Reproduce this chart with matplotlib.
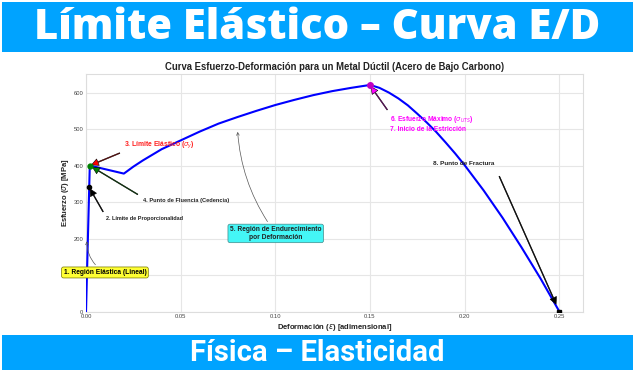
import matplotlib
matplotlib.use("Agg")
import matplotlib.pyplot as plt
from matplotlib.patches import Rectangle

# ---------------- data ----------------
strain = [0.0, 0.0017, 0.002, 0.02, 0.025, 0.03, 0.04, 0.05, 0.06, 0.07, 0.08, 0.09,
          0.10, 0.11, 0.12, 0.13, 0.14, 0.15, 0.155, 0.16, 0.165, 0.17, 0.175, 0.18,
          0.185, 0.19, 0.195, 0.20, 0.21, 0.22, 0.23, 0.24, 0.25]
stress = [0, 340, 400, 378, 397, 414, 445, 469, 493, 515, 533, 550,
          566, 580, 593, 604, 613, 621, 613, 600, 584, 565, 542, 518,
          492, 463, 433, 401, 332, 257, 176, 91, 0]

prop_pt = (0.0017, 340)
yield_pt = (0.002, 400)
uts_pt = (0.15, 620)
fract_pt = (0.25, 0)

x_ticks = [0.00, 0.05, 0.10, 0.15, 0.20, 0.25]
y_ticks = [0, 100, 200, 300, 400, 500, 600]

title_top = "Límite Elástico – Curva E/D"
title_bottom = "Física – Elasticidad"
chart_title = "Curva Esfuerzo-Deformación para un Metal Dúctil (Acero de Bajo Carbono)"

# ---------------- figure ----------------
W, H = 635, 371
fig = plt.figure(figsize=(W / 100, H / 100), dpi=100)
fig.patch.set_facecolor("white")

BLUE = "#00A3FF"
fig.add_artist(Rectangle((2 / W, 1 - 52 / H), 631 / W, 50 / H, transform=fig.transFigure,
                         facecolor=BLUE, edgecolor="none"))
fig.add_artist(Rectangle((2 / W, 1 / H), 631 / W, 35 / H, transform=fig.transFigure,
                         facecolor=BLUE, edgecolor="none"))
fig.text(0.5, 1 - 28 / H, title_top, ha="center", va="center", color="white",
         fontsize=30, fontweight="heavy", family="Open Sans")
fig.text(0.5, 1 - 353 / H, title_bottom, ha="center", va="center", color="white",
         fontsize=21, fontweight="bold", family="Roboto")

ax = fig.add_axes([86 / W, 1 - 311.5 / H, (583 - 86) / W, (311.5 - 74) / H])
ax.set_facecolor("white")
ax.grid(True, color="#e6e6e6", lw=0.8)
ax.set_axisbelow(True)
for s in ax.spines.values():
    s.set_color("#dddddd")
    s.set_linewidth(0.8)

FONT = "Liberation Sans"
ax.plot(strain, stress, color="blue", lw=1.5, zorder=3)

ax.plot(*prop_pt, "o", color="black", ms=3, zorder=4)
ax.plot(*yield_pt, "o", color="green", ms=3.5, zorder=4)
ax.plot(*uts_pt, "o", color="#c000c0", ms=4, zorder=4)
ax.plot(*fract_pt, "s", color="black", ms=3, zorder=4, clip_on=True)

ax.set_xlim(0, 0.2625)
ax.set_ylim(0, 651)
ax.set_xticks(x_ticks)
ax.set_xticklabels([f"{v:.2f}" for v in x_ticks])
ax.set_yticks(y_ticks)
ax.tick_params(axis="both", labelsize=4.2, colors="#444444", length=0, pad=2)
for lab in ax.get_xticklabels() + ax.get_yticklabels():
    lab.set_family(FONT)

ax.set_title(chart_title, fontsize=6.85, fontweight="bold", family=FONT, pad=3, color="#222222")
ax.set_xlabel("Deformación ($\\epsilon$) [adimensional]", fontsize=5.5, fontweight="bold",
              family=FONT, labelpad=2, color="#222222")
ax.set_ylabel("Esfuerzo ($\\sigma$) [MPa]", fontsize=5.5, fontweight="bold", family=FONT,
              labelpad=2, color="#222222")


def arrow(fc):
    return dict(facecolor=fc, edgecolor="black", shrink=0.05, width=0.6,
                headwidth=5, headlength=5, lw=0.4)


ax.annotate("1. Región Elástica (Lineal)", xy=(0.0005, 200), xytext=(0.010, 107),
            ha="center", va="center", fontsize=4.8, fontweight="bold", family=FONT,
            bbox=dict(boxstyle="round,pad=0.3", fc="#ffff33", ec="#777700", lw=0.5),
            arrowprops=dict(arrowstyle="->", color="#555555", lw=0.5,
                            connectionstyle="arc3,rad=-0.3"), annotation_clip=False,
            zorder=6)
ax.annotate("2. Límite de Proporcionalidad", xy=prop_pt, xytext=(0.0103, 255),
            ha="left", va="center", fontsize=4.0, fontweight="bold", family=FONT,
            color="#222222", arrowprops=arrow("black"))
ax.annotate("3. Límite Elástico ($\\sigma_y$)", xy=yield_pt, xytext=(0.0202, 455),
            ha="left", va="center", fontsize=4.9, fontweight="bold", family=FONT,
            color="#ff2020", arrowprops=arrow("red"))
ax.annotate("4. Punto de Fluencia (Cedencia)", xy=yield_pt, xytext=(0.0302, 305),
            ha="left", va="center", fontsize=4.05, fontweight="bold", family=FONT,
            color="#222222", arrowprops=arrow("green"))
ax.annotate("5. Región de Endurecimiento\npor Deformación", xy=(0.08, 500),
            xytext=(0.1002, 214), ha="center", va="center", fontsize=4.8,
            fontweight="bold", family=FONT, color="#222222", linespacing=1.1,
            bbox=dict(boxstyle="round,pad=0.3", fc="#44f6f6", ec="#448888", lw=0.5),
            arrowprops=dict(arrowstyle="->", color="#555555", lw=0.5,
                            connectionstyle="arc3,rad=-0.15"))
ax.annotate("6. Esfuerzo Máximo ($\\sigma_{UTS}$)\n7. Inicio de la Estricción", xy=uts_pt,
            xytext=(0.1607, 516), ha="left", va="center", fontsize=4.8, fontweight="bold",
            family=FONT, color="#ff00ff", linespacing=1.1, arrowprops=arrow("magenta"))
ax.annotate("8. Punto de Fractura", xy=fract_pt, xytext=(0.1835, 405), ha="left",
            va="center", fontsize=4.6, fontweight="bold", family=FONT,
            color="#222222", arrowprops=arrow("black"))

fig.savefig("out.png", dpi=100, facecolor="white")
